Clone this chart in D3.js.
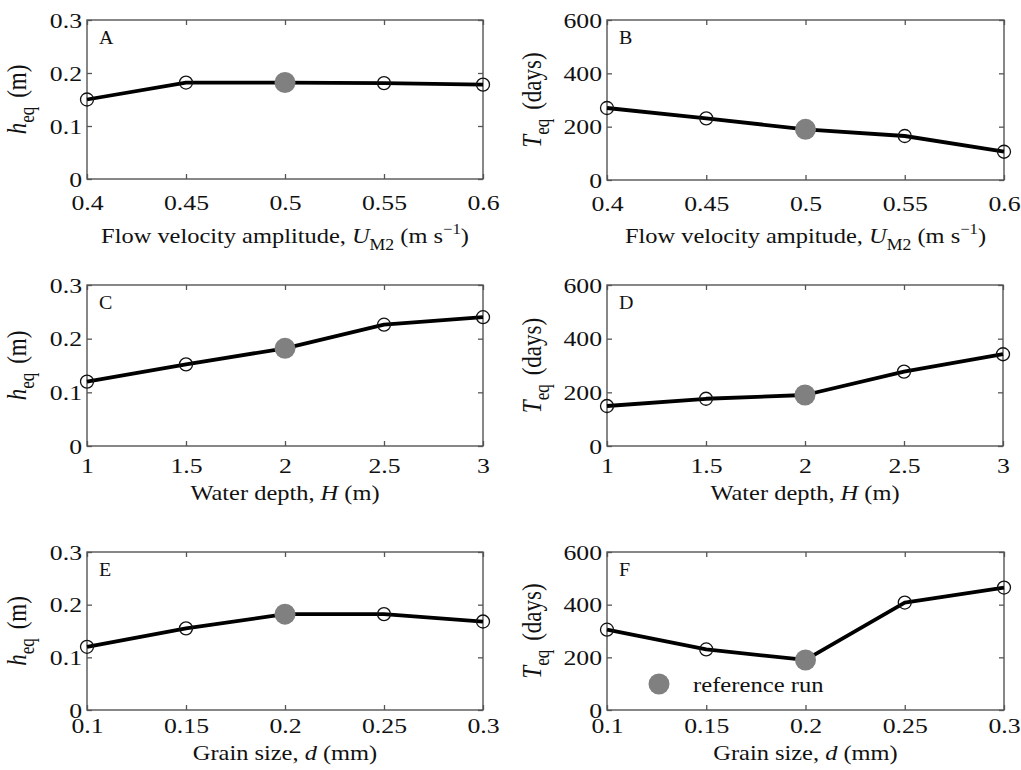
<!DOCTYPE html>
<html>
<head>
<meta charset="utf-8">
<script src="https://cdn.jsdelivr.net/npm/d3@7"></script>
<style>
  html, body { margin: 0; padding: 0; background: #fff; }
  svg { display: block; }
  text { font-family: "Liberation Serif", "Times New Roman", serif; fill: #111; }
</style>
</head>
<body>
<svg id="chart" width="1021" height="770"></svg>
<script>
// ---- data ----
const velocityX = [0.4, 0.45, 0.5, 0.55, 0.6];
const depthX = [1, 1.5, 2, 2.5, 3];
const grainX = [0.1, 0.15, 0.2, 0.25, 0.3];

const heqVelocity = [0.15, 0.182, 0.182, 0.181, 0.178];
const teqVelocity = [270, 231, 190, 165, 106];
const heqDepth = [0.12, 0.152, 0.182, 0.226, 0.24];
const teqDepth = [149, 176, 190, 277, 342];
const heqGrain = [0.12, 0.155, 0.182, 0.182, 0.168];
const teqGrain = [305, 230, 190, 408, 465];

const referenceIndex = 2;

const hTicks = [0, 0.1, 0.2, 0.3];
const tTicks = [0, 200, 400, 600];
const velocityTicks = [0.4, 0.45, 0.5, 0.55, 0.6];
const depthTicks = [1, 1.5, 2, 2.5, 3];
const grainTicks = [0.1, 0.15, 0.2, 0.25, 0.3];

const panelLetters = ["A", "B", "C", "D", "E", "F"];
const legendLabel = "reference run";

// ---- layout ----
const SX = 1.17;  // horizontal stretch of tick text as in the reference
const LX = 1.11;  // stretch of axis labels
const fs = 22;
const svg = d3.select("#chart");

const panels = [
  {x: velocityX, y: heqVelocity, xt: velocityTicks, yt: hTicks, yd: [0, 0.3], box: [87, 20, 483, 179], xlab: "velA", ylab: "h", xlabY: 243, ylabX: 26, pad: 15},
  {x: velocityX, y: teqVelocity, xt: velocityTicks, yt: tTicks, yd: [0, 600], box: [607, 20, 1004, 180], xlab: "velB", ylab: "T", xlabY: 243, ylabX: 541, pad: 15},
  {x: depthX, y: heqDepth, xt: depthTicks, yt: hTicks, yd: [0, 0.3], box: [87, 285, 483, 446], xlab: "depth", ylab: "h", xlabY: 500, ylabX: 26, pad: 11},
  {x: depthX, y: teqDepth, xt: depthTicks, yt: tTicks, yd: [0, 600], box: [607, 285, 1003, 446], xlab: "depth", ylab: "T", xlabY: 500, ylabX: 541, pad: 11},
  {x: grainX, y: heqGrain, xt: grainTicks, yt: hTicks, yd: [0, 0.3], box: [87, 552, 483, 710], xlab: "grain", ylab: "h", xlabY: 760, ylabX: 26, pad: 7},
  {x: grainX, y: teqGrain, xt: grainTicks, yt: tTicks, yd: [0, 600], box: [607, 552, 1004, 710], xlab: "grain", ylab: "T", xlabY: 760, ylabX: 541, pad: 7, legend: true}
];

panels.forEach((p, i) => {
  const [x0, y0, x1, y1] = p.box;
  const w = x1 - x0, h = y1 - y0;
  const g = svg.append("g").attr("transform", `translate(${x0},${y0})`);
  const xs = d3.scaleLinear().domain(d3.extent(p.xt)).range([0, w]);
  const ys = d3.scaleLinear().domain(p.yd).range([h, 0]);

  // frame
  g.append("rect").attr("width", w).attr("height", h)
    .attr("fill", "none").attr("stroke", "#555").attr("stroke-width", 1.4);

  const fmt = v => String(v);
  const bottom = g.append("g").attr("transform", `translate(0,${h})`)
    .call(d3.axisBottom(xs).tickValues(p.xt).tickFormat(fmt).tickSizeInner(-5).tickSizeOuter(0).tickPadding(p.pad));
  const left = g.append("g")
    .call(d3.axisLeft(ys).tickValues(p.yt).tickFormat(fmt).tickSizeInner(-5).tickSizeOuter(0).tickPadding(4));
  const top = g.append("g")
    .call(d3.axisTop(xs).tickValues(p.xt).tickFormat("").tickSizeInner(-5).tickSizeOuter(0));
  const right = g.append("g").attr("transform", `translate(${w},0)`)
    .call(d3.axisRight(ys).tickValues(p.yt).tickFormat("").tickSizeInner(-5).tickSizeOuter(0));
  [bottom, left, top, right].forEach(a => {
    a.select(".domain").remove();
    a.selectAll(".tick line").attr("stroke", "#555").attr("stroke-width", 1.3);
    a.selectAll(".tick text").attr("font-size", fs).attr("font-family", "Liberation Serif").attr("fill", "#111");
  });
  bottom.selectAll(".tick text").attr("transform", `scale(${SX},1)`);
  left.selectAll(".tick text").attr("x", 0).attr("dx", null)
    .attr("transform", `translate(-5,0) scale(${SX},1)`);

  // panel letter
  g.append("text").attr("transform", `translate(12,24) scale(${LX},1)`)
    .attr("font-size", 18).text(panelLetters[i]);

  // line
  const line = d3.line().x((d, j) => xs(p.x[j])).y(d => ys(d));
  g.append("path").datum(p.y).attr("d", line)
    .attr("fill", "none").attr("stroke", "#000").attr("stroke-width", 3.8).attr("stroke-linejoin", "round");

  // markers
  g.selectAll("circle.m").data(p.y).enter().append("circle")
    .attr("class", "m")
    .attr("cx", (d, j) => xs(p.x[j])).attr("cy", d => ys(d))
    .attr("r", (d, j) => j === referenceIndex ? 10.5 : 6.5)
    .attr("fill", (d, j) => j === referenceIndex ? "#808080" : "none")
    .attr("stroke", (d, j) => j === referenceIndex ? "none" : "#111")
    .attr("stroke-width", 1.3);

  // x label
  const xl = svg.append("text")
    .attr("transform", `translate(${x0 + w / 2},${p.xlabY}) scale(${LX},1)`)
    .attr("text-anchor", "middle").attr("font-size", fs);
  if (p.xlab === "velA" || p.xlab === "velB") {
    xl.append("tspan").text(p.xlab === "velA" ? "Flow velocity amplitude, " : "Flow velocity ampitude, ");
    xl.append("tspan").attr("font-style", "italic").text("U");
    xl.append("tspan").attr("font-size", 16).attr("dy", 7).text("M2");
    xl.append("tspan").attr("dy", -7).text(" (m s");
    xl.append("tspan").attr("font-size", 15).attr("dy", -9).text("\u22121");
    xl.append("tspan").attr("dy", 9).text(")");
  } else if (p.xlab === "depth") {
    xl.append("tspan").text("Water depth, ");
    xl.append("tspan").attr("font-style", "italic").text("H");
    xl.append("tspan").text(" (m)");
  } else {
    xl.append("tspan").text("Grain size, ");
    xl.append("tspan").attr("font-style", "italic").text("d");
    xl.append("tspan").text(" (mm)");
  }

  // y label
  const yl = svg.append("text")
    .attr("transform", `translate(${p.ylabX},${y0 + h / 2}) scale(${SX},1) rotate(-90)`)
    .attr("text-anchor", "middle").attr("font-size", 23);
  yl.append("tspan").attr("font-style", "italic").text(p.ylab);
  yl.append("tspan").attr("font-size", 17).attr("dy", 7).text("eq");
  yl.append("tspan").attr("dy", -7).attr("dx", 9).text(p.ylab === "h" ? "(m)" : "(days)");

  if (p.legend) {
    g.append("circle").attr("cx", 52).attr("cy", 132).attr("r", 10.5).attr("fill", "#808080");
    g.append("text").attr("transform", `translate(86,140) scale(1.12,1)`)
      .attr("font-size", fs).text(legendLabel);
  }
});
</script>
</body>
</html>
